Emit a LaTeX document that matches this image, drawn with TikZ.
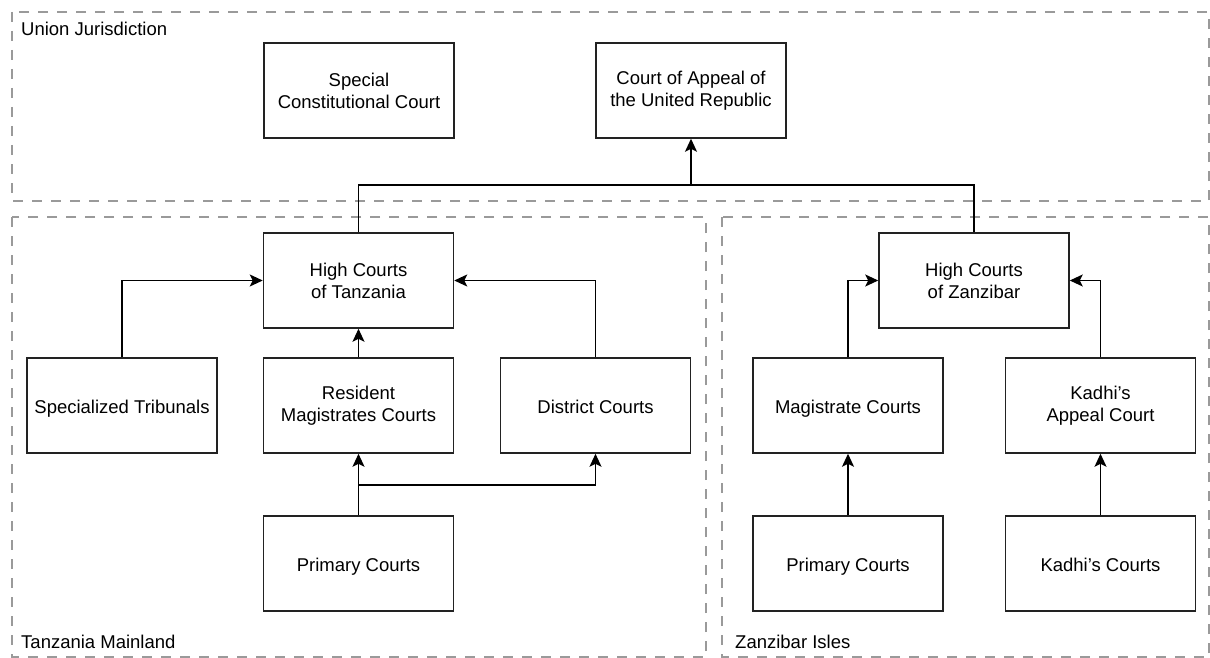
\documentclass[tikz,border=0pt]{standalone}
\usepackage{fontspec}
\setmainfont{Liberation Sans}
\usetikzlibrary{arrows.meta}
\definecolor{regiongray}{HTML}{9A9A9A}
\definecolor{boxline}{HTML}{222222}
\begin{document}
\begin{tikzpicture}[x=1pt,y=-1pt,
  court/.style={draw=boxline, line width=1.5pt, rectangle, minimum width=190pt,
    minimum height=95pt, align=center, inner sep=0pt,
    font=\fontsize{18.5}{22}\selectfont},
  oneline/.style={text height=16pt, text depth=0pt},
  region/.style={draw=regiongray, line width=2.6pt, dash pattern=on 10pt off 9pt},
  regionlabel/.style={anchor=base west, inner sep=0pt, font=\fontsize{18.5}{22}\selectfont},
  link/.style={draw=black, line width=1.6pt},
  uplink/.style={link, -{Stealth[length=13pt,width=12pt,inset=3pt]}}
]
\useasboundingbox (0,0) rectangle (1210,658);

% jurisdiction regions
\draw[region] (12,12) rectangle (1209,201);
\draw[region] (12,217) rectangle (706,657);
\draw[region] (722,217) rectangle (1209,657);
\node[regionlabel] (lunion) at (21,36) {Union Jurisdiction};
\node[regionlabel] (lmain) at (21,648) {Tanzania Mainland};
\node[regionlabel] (lisles) at (735,648) {Zanzibar Isles};

% union courts
\node[court] (sc) at (359,90.5) {Special\\Constitutional Court};
\node[court] (ca) at (691,90.5) {Court of Appeal of\\the United Republic};

% mainland courts
\node[court] (hct) at (358.5,280.5) {High Courts\\of Tanzania};
\node[court,oneline] (st)  at (122,405.5) {Specialized Tribunals};
\node[court] (rm)  at (358.5,405.5) {Resident\\Magistrates Courts};
\node[court,oneline] (dc)  at (595.5,405.5) {District Courts};
\node[court,oneline] (pct) at (358.5,563.5) {Primary Courts};

% isles courts
\node[court] (hcz) at (974,280.5) {High Courts\\of Zanzibar};
\node[court,oneline] (mc)  at (848,405.5) {Magistrate Courts};
\node[court] (kac) at (1100.5,405.5) {Kadhi's\\Appeal Court};
\node[court,oneline] (pcz) at (848,563.5) {Primary Courts};
\node[court,oneline] (kc)  at (1100.5,563.5) {Kadhi's Courts};

% junction points
\coordinate (bus) at (691,185);
\coordinate (split) at (358.5,485);

% appeals to the Court of Appeal
\draw[link] (hct.north) |- (bus) -| (hcz.north);
\draw[uplink] (bus) -- (ca.south);

% mainland appeals
\draw[uplink] (st.north) |- (hct.west);
\draw[uplink] (dc.north) |- (hct.east);
\draw[uplink] (rm.north) -- (hct.south);
\draw[uplink] (pct.north) -- (rm.south);
\draw[uplink] (split) -| (dc.south);

% isles appeals
\draw[uplink] (mc.north) |- (hcz.west);
\draw[uplink] (kac.north) |- (hcz.east);
\draw[uplink] (pcz.north) -- (mc.south);
\draw[uplink] (kc.north) -- (kac.south);
\end{tikzpicture}
\end{document}
